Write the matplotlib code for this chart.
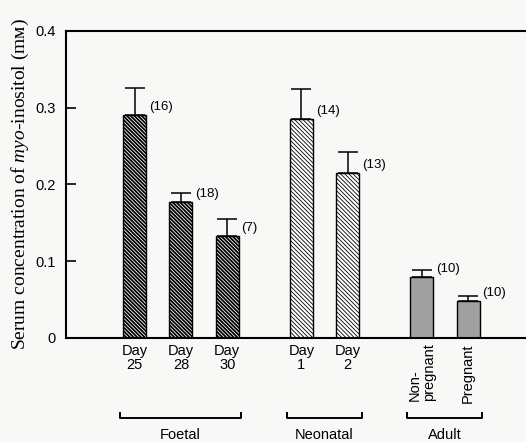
import matplotlib
matplotlib.use('Agg')
import matplotlib.pyplot as plt
import matplotlib.transforms as mtransforms
import numpy as np

# data
labels = ['Day\n25', 'Day\n28', 'Day\n30', 'Day\n1', 'Day\n2', 'Non-\npregnant', 'Pregnant']
positions = [0, 1, 2, 3.6, 4.6, 6.2, 7.2]
values = [0.290, 0.177, 0.133, 0.285, 0.215, 0.079, 0.048]
sem = [0.036, 0.012, 0.022, 0.039, 0.027, 0.009, 0.007]
n_counts = ['(16)', '(18)', '(7)', '(14)', '(13)', '(10)', '(10)']
group_names = ['Foetal', 'Neonatal', 'Adult']
group_members = [[0, 1, 2], [3, 4], [5, 6]]

plt.rcParams['font.family'] = ['Liberation Sans', 'DejaVu Sans']
plt.rcParams['mathtext.fontset'] = 'custom'
plt.rcParams['mathtext.rm'] = 'Liberation Serif'
plt.rcParams['mathtext.it'] = 'Liberation Serif:italic'

bg = '#f8f8f6'
fig = plt.figure(figsize=(5.26, 4.42), dpi=100, facecolor=bg)
ax = fig.add_axes([0.1255, 0.2353, 0.8745, 0.6946])
ax.set_facecolor(bg)

w = 0.5
styles = [
    # (facecolor, hatch, hatch linewidth)
    ('white', '\\' * 9, 1.3),
    ('white', '\\' * 8, 0.6),
    ('#a0a0a0', '', 0.5),
]
group_of = {}
for g, mem in enumerate(group_members):
    for i in mem:
        group_of[i] = g

for i in range(len(values)):
    fc, hatch, hlw = styles[group_of[i]]
    with plt.rc_context({'hatch.linewidth': hlw, 'hatch.color': 'black'}):
        ax.bar(positions[i], values[i], width=w, color=fc, edgecolor='black',
               linewidth=1.0, hatch=hatch, zorder=2)

ax.errorbar(positions, values, yerr=[np.zeros(len(sem)), sem], fmt='none',
            ecolor='black', elinewidth=1.1, capsize=7, capthick=1.1, zorder=3)

for x, v, s in zip(positions, values, n_counts):
    ax.annotate(s, xy=(x + w / 2, v), xytext=(2, 6), textcoords='offset points',
                ha='left', va='center', fontsize=9.5)

ax.set_xlim(-1.48, 8.45)
ax.set_ylim(0, 0.4)
ax.set_yticks([0, 0.1, 0.2, 0.3, 0.4])
ax.set_yticklabels(['0', '0.1', '0.2', '0.3', '0.4'])
ax.tick_params(axis='y', direction='in', length=7, width=1.2, pad=7.5, labelsize=10.5)
ax.set_xticks(positions)
ax.set_xticklabels(labels, fontsize=10.5, linespacing=1.05)
ax.tick_params(axis='x', length=0, pad=4)
for lab in ax.get_xticklabels()[5:]:
    lab.set_rotation(90)
    lab.set_va('top')
    lab.set_ha('center')
    lab.set_multialignment('left')

for side in ['left', 'top', 'bottom']:
    ax.spines[side].set_linewidth(1.5)
ax.spines['right'].set_visible(False)

ax.set_ylabel(r'Serum concentration of $\mathit{myo}$-inositol (mᴍ)',
              family=['Liberation Serif', 'DejaVu Serif', 'DejaVu Sans'],
              fontsize=14, labelpad=3)

# group brackets under the tick labels
trans = mtransforms.blended_transform_factory(ax.transData, ax.transAxes)
yb = -0.262
for name, mem in zip(group_names, group_members):
    x0 = positions[mem[0]] - w / 2 - 0.06
    x1 = positions[mem[-1]] + w / 2 + 0.05
    ax.plot([x0, x0, x1, x1], [yb + 0.018, yb, yb, yb + 0.018], color='black',
            lw=1.4, transform=trans, clip_on=False)
    ax.text((x0 + x1) / 2, yb - 0.055, name, transform=trans, ha='center',
            va='center', fontsize=10.5)

fig.savefig('out.png', dpi=100, facecolor=bg)
